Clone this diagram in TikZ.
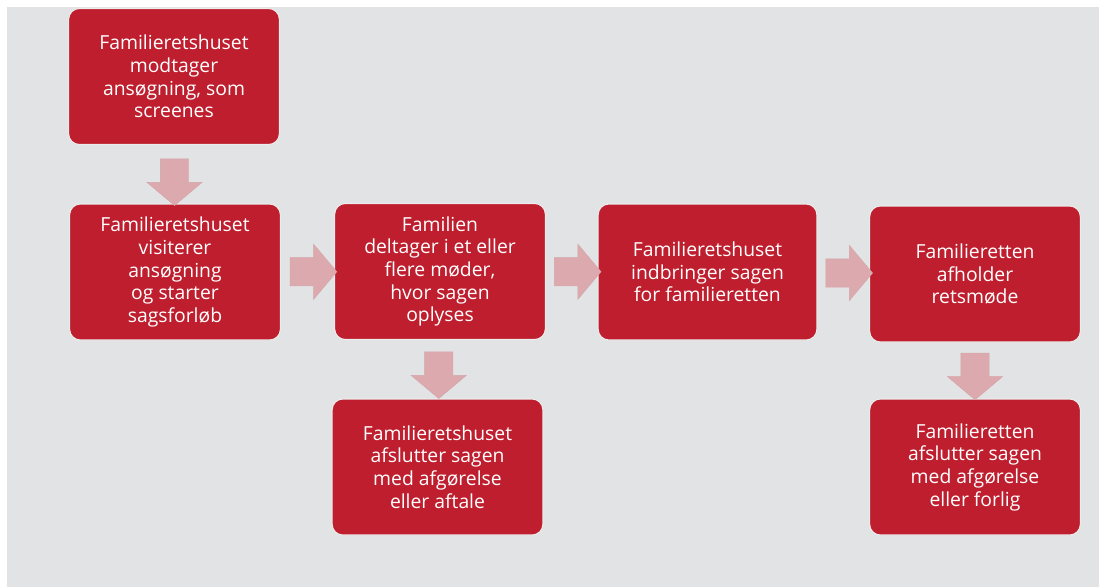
\documentclass[tikz,border=0pt]{standalone}
\usepackage{fontspec}
\setmainfont{Open Sans}
\usetikzlibrary{shapes.arrows,calc}
\definecolor{boxred}{HTML}{BE1E2D}
\definecolor{arrowpink}{HTML}{DCAAAE}
\definecolor{bggray}{HTML}{E2E3E5}
\tikzset{
  stepbox/.style={draw=white!85!gray, line width=0.8pt, fill=boxred, rounded corners=8pt,
    text=white, align=center, minimum width=158pt, minimum height=102pt,
    font=\fontsize{14.5}{17}\selectfont},
  blockarrow/.style={single arrow, fill=arrowpink, draw=arrowpink!90!gray, line width=0.3pt,
    minimum height=35pt, minimum width=41pt, single arrow head extend=10pt,
    single arrow tip angle=100, inner xsep=0pt, inner ysep=10.5pt}
}
\begin{document}
\begin{tikzpicture}[x=0.75pt, y=-0.75pt]
	\useasboundingbox (0,0) rectangle (1099,587);
	%--background
	\fill[white] (0,0) rectangle (1099,587);
	\fill[bggray] (7,7) rectangle (1099,587);
	
	%--boxes of the process
	\node[stepbox] (modtager) at (174,76.5) {Familieretshuset\\modtager\\ansøgning, som\\screenes};
	\node[stepbox] (visiterer) at (175,272) {Familieretshuset\\visiterer\\ansøgning\\og starter\\sagsforløb};
	\node[stepbox] (moeder) at (440,271.5) {Familien\\deltager i et eller\\flere møder,\\hvor sagen\\oplyses};
	\node[stepbox, minimum width=164pt] (indbringer) at (707.5,272) {Familieretshuset\\indbringer sagen\\for familieretten};
	\node[stepbox] (retsmoede) at (975,274) {Familieretten\\afholder\\retsmøde};
	\node[stepbox] (aftale) at (437.5,467) {Familieretshuset\\afslutter sagen\\med afgørelse\\eller aftale};
	\node[stepbox] (forlig) at (975,467) {Familieretten\\afslutter sagen\\med afgørelse\\eller forlig};
	
	%--block arrows between the boxes
	\node[blockarrow, rotate=-90] (a1) at ([yshift=-1.5pt]$(modtager.south)!0.5!(visiterer.north)$) {};
	\node[blockarrow] (a2) at ($(visiterer.east)!0.5!(moeder.west)$) {};
	\node[blockarrow] (a3) at ($(moeder.east)!0.5!(indbringer.west)$) {};
	\node[blockarrow] (a4) at ($(indbringer.east)!0.5!(retsmoede.west)$) {};
	\node[blockarrow, rotate=-90] (a5) at ($(moeder.south)!0.5!(aftale.north)$) {};
	\node[blockarrow, rotate=-90] (a6) at ($(retsmoede.south)!0.5!(forlig.north)$) {};
\end{tikzpicture}
\end{document}
